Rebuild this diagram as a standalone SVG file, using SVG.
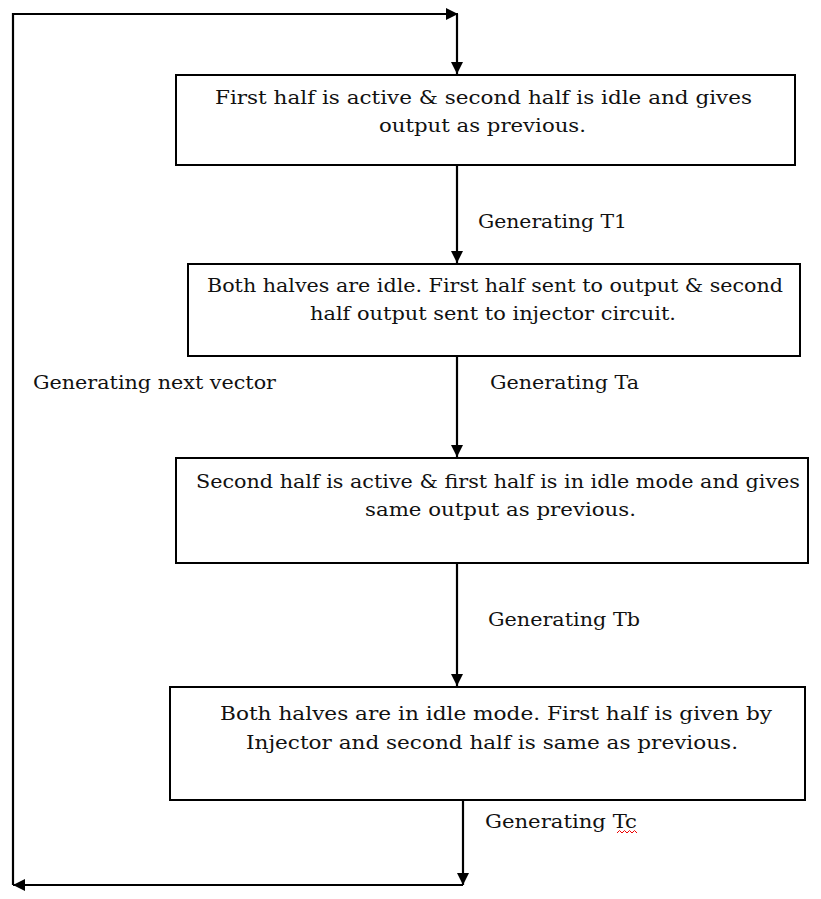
<svg xmlns="http://www.w3.org/2000/svg" width="821" height="899" viewBox="0 0 821 899">
<style>
.box{fill:#fff;stroke:#000;stroke-width:2}
.t{font-family:"DejaVu Serif","Liberation Serif",serif;font-size:18px;fill:#111}
.ln{fill:none;stroke:#000;stroke-width:2.2}
</style>
<defs>
<marker id="a" viewBox="0 0 10 10" refX="10" refY="5" markerWidth="12" markerHeight="12" orient="auto" markerUnits="userSpaceOnUse">
<path d="M0,0 L10,5 L0,10 z" fill="#000"/>
</marker>
</defs>
<rect width="821" height="899" fill="#fff"/>
<g id="connectors">
<polyline class="ln" points="13,885 13,14 458,14" marker-end="url(#a)"/>
<line class="ln" x1="457" y1="14" x2="457" y2="74" marker-end="url(#a)"/>
<line class="ln" x1="457" y1="165" x2="457" y2="263" marker-end="url(#a)"/>
<line class="ln" x1="457" y1="356" x2="457" y2="457" marker-end="url(#a)"/>
<line class="ln" x1="457" y1="563" x2="457" y2="686" marker-end="url(#a)"/>
<line class="ln" x1="463" y1="800" x2="463" y2="885" marker-end="url(#a)"/>
<line class="ln" x1="463" y1="885" x2="13" y2="885" marker-end="url(#a)"/>
<text class="t" x="478" y="228" textLength="149" lengthAdjust="spacingAndGlyphs">Generating T1</text>
<text class="t" x="33" y="389" textLength="243" lengthAdjust="spacingAndGlyphs">Generating next vector</text>
<text class="t" x="490" y="389" textLength="149" lengthAdjust="spacingAndGlyphs">Generating Ta</text>
<text class="t" x="488" y="626" textLength="152" lengthAdjust="spacingAndGlyphs">Generating Tb</text>
<text class="t" x="485" y="828" textLength="152" lengthAdjust="spacingAndGlyphs">Generating Tc</text>
<path d="M617,833 l2.5,-2.5 l2.5,2.5 l2.5,-2.5 l2.5,2.5 l2.5,-2.5 l2.5,2.5 l2.5,-2.5 l2.5,2.5" fill="none" stroke="#e00" stroke-width="1"/>
</g>
<g id="node1">
<rect class="box" x="176" y="75" width="619" height="90"/>
<text class="t" x="215" y="104" textLength="537" lengthAdjust="spacingAndGlyphs">First half is active &amp; second half is idle and gives</text>
<text class="t" x="379" y="132" textLength="207" lengthAdjust="spacingAndGlyphs">output as previous.</text>
</g>
<g id="node2">
<rect class="box" x="188" y="264" width="612" height="92"/>
<text class="t" x="207" y="292" textLength="576" lengthAdjust="spacingAndGlyphs">Both halves are idle. First half sent to output &amp; second</text>
<text class="t" x="310" y="320" textLength="366" lengthAdjust="spacingAndGlyphs">half output sent to injector circuit.</text>
</g>
<g id="node3">
<rect class="box" x="176" y="458" width="632" height="105"/>
<text class="t" x="196" y="488" textLength="604" lengthAdjust="spacingAndGlyphs">Second half is active &amp; first half is in idle mode and gives</text>
<text class="t" x="365" y="516" textLength="271" lengthAdjust="spacingAndGlyphs">same output as previous.</text>
</g>
<g id="node4">
<rect class="box" x="170" y="687" width="635" height="113"/>
<text class="t" x="220" y="720" textLength="552" lengthAdjust="spacingAndGlyphs">Both halves are in idle mode. First half is given by</text>
<text class="t" x="246" y="749" textLength="492" lengthAdjust="spacingAndGlyphs">Injector and second half is same as previous.</text>
</g>
</svg>
